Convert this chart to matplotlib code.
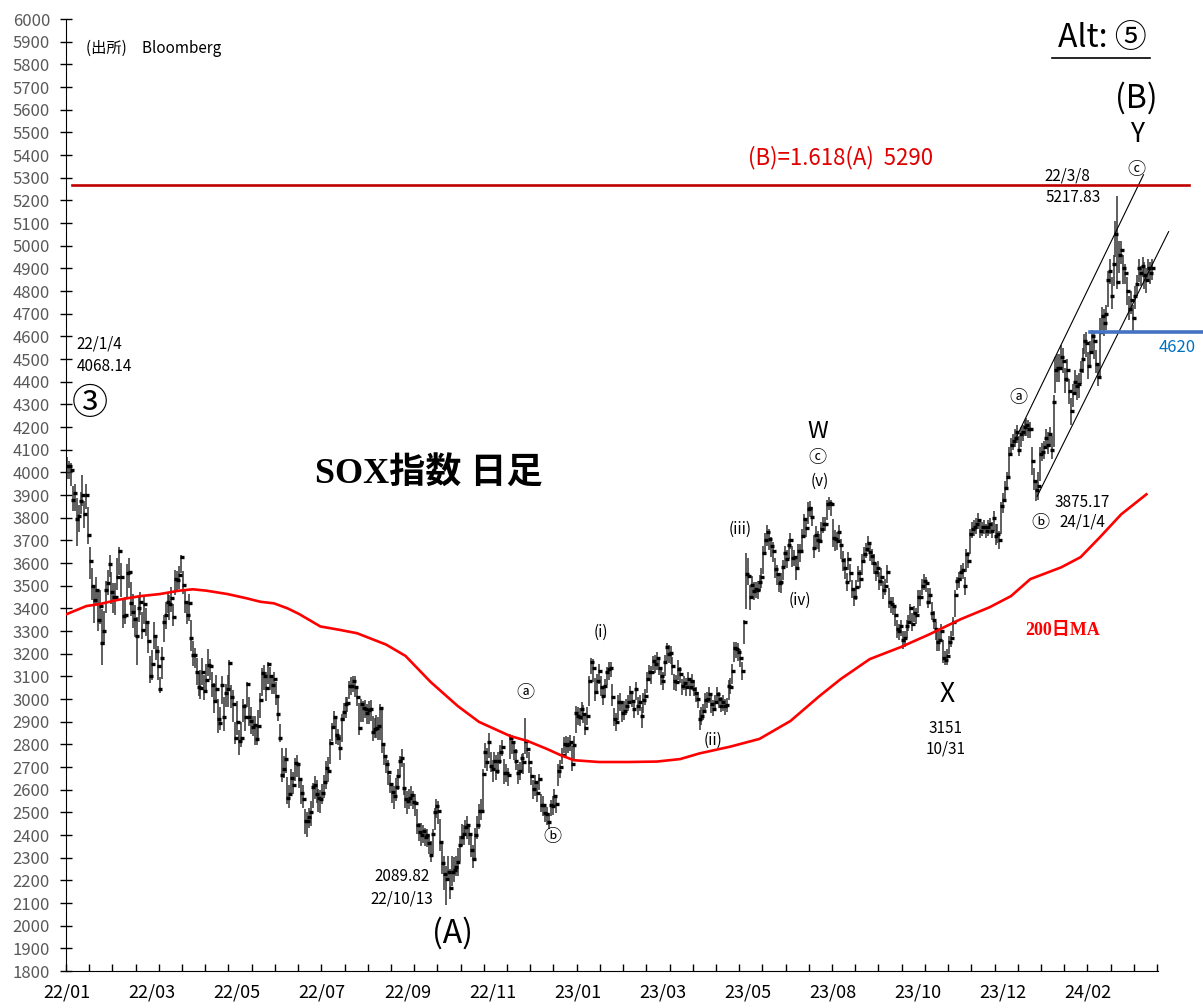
import numpy as np
import matplotlib.pyplot as plt

plt.rcParams['font.family'] = ['Noto Sans CJK JP', 'DejaVu Sans']

# -----------------------------
# DATA (SOX daily)
# -----------------------------
close = [
    4027, 4030, 4010, 3880, 3910, 3795, 3806, 3875, 3900, 3815,
    3900, 3725, 3610, 3497, 3435, 3480, 3350, 3410, 3245, 3300,
    3480, 3510, 3597, 3470, 3450, 3450, 3540, 3655, 3540, 3365,
    3370, 3555, 3560, 3425, 3385, 3355, 3280, 3400, 3430, 3305,
    3420, 3340, 3255, 3100, 3155, 3280, 3210, 3145, 3045, 3180,
    3340, 3370, 3430, 3420, 3445, 3360, 3530, 3525, 3545, 3625,
    3505, 3430, 3370, 3425, 3270, 3195, 3195, 3120, 3055, 3050,
    3120, 3035, 3085, 3150, 3145, 3060, 2990, 3045, 2910, 2895,
    3060, 2920, 3025, 3045, 3160, 3010, 2980, 2830, 2900, 2815,
    2830, 2970, 2920, 3065, 2920, 2905, 2875, 2885, 2825, 2880,
    2995, 3115, 3100, 3050, 3155, 3100, 3060, 3090, 3015, 2935,
    2830, 2665, 2690, 2735, 2565, 2580, 2650, 2620, 2718, 2714,
    2648, 2586, 2560, 2463, 2460, 2479, 2501, 2611, 2621, 2582,
    2563, 2557, 2586, 2633, 2695, 2684, 2805, 2875, 2919, 2841,
    2827, 2783, 2912, 2944, 2978, 2981, 3059, 3056, 3081, 3051,
    3007, 2871, 2978, 2960, 2955, 2940, 2950, 2955, 2853, 2868,
    2870, 2880, 2960, 2802, 2748, 2714, 2680, 2626, 2590, 2574,
    2611, 2659, 2728, 2739, 2607, 2560, 2552, 2563, 2577, 2545,
    2542, 2445, 2413, 2401, 2416, 2391, 2398, 2366, 2313, 2405,
    2501, 2527, 2508, 2369, 2278, 2229, 2204, 2237, 2168, 2237,
    2244, 2259, 2281, 2354, 2390, 2405, 2435, 2442, 2405, 2332,
    2295, 2401, 2442, 2508, 2508, 2670, 2765, 2724, 2809, 2706,
    2692, 2728, 2684, 2728, 2765, 2787, 2674, 2674, 2665, 2827,
    2809, 2772, 2728, 2674, 2684, 2739, 2721, 2816, 2780, 2724,
    2662, 2601, 2633, 2586, 2648, 2533, 2533, 2498, 2494, 2457,
    2533, 2530, 2571, 2538, 2684, 2700, 2754, 2802, 2795, 2802,
    2809, 2714, 2795, 2938, 2924, 2919, 2956, 2934, 2871, 2924,
    3081, 3162, 3135, 3032, 3081, 3125, 3052, 3015, 3059, 3120,
    3132, 3135, 3007, 2912, 2897, 2988, 2985, 2938, 2949, 2968,
    2988, 3029, 2993, 2956, 3044, 2971, 2988, 2924, 2997, 3015,
    3088, 3120, 3117, 3169, 3154, 3179, 3135, 3100, 3081, 3162,
    3228, 3198, 3203, 3147, 3081, 3074, 3132, 3110, 3059, 3071,
    3052, 3088, 3052, 3081, 3044, 3025, 3000, 2912, 2924, 2949,
    2997, 3000, 3022, 2978, 2956, 2986, 3022, 3000, 2971, 2988,
    2971, 2974, 3056, 3052, 3125, 3223, 3220, 3206, 3179, 3125,
    3338, 3551, 3543, 3452, 3502, 3477, 3485, 3480, 3517, 3540,
    3643, 3702, 3737, 3708, 3675, 3653, 3573, 3551, 3511, 3517,
    3584, 3643, 3617, 3678, 3702, 3624, 3628, 3576, 3653, 3653,
    3719, 3796, 3756, 3840, 3844, 3805, 3664, 3722, 3702, 3697,
    3752, 3771, 3771, 3859, 3863, 3859, 3712, 3705, 3697, 3737,
    3678, 3614, 3580, 3517, 3617, 3555, 3485, 3452, 3496, 3558,
    3529, 3609, 3640, 3660, 3690, 3650, 3630, 3600, 3560, 3580,
    3520, 3540, 3480, 3500, 3560, 3430, 3420, 3410, 3370, 3310,
    3300, 3320, 3260, 3270, 3320, 3340, 3400, 3330, 3380, 3370,
    3450, 3450, 3500, 3520, 3510, 3430, 3460, 3380, 3350, 3310,
    3250, 3260, 3300, 3180, 3170, 3190, 3250, 3270, 3340, 3460,
    3520, 3530, 3560, 3570, 3500, 3640, 3610, 3730, 3750, 3760,
    3770, 3790, 3740, 3760, 3760, 3740, 3760, 3770, 3740, 3800,
    3720, 3730, 3700, 3850, 3880, 3930, 3980, 4080, 4120, 4140,
    4150, 4180, 4100, 4170, 4180, 4200, 4210, 4190, 4190, 4050,
    3960, 3920, 3940, 4080, 4090, 4110, 4150, 4120, 4170, 4100,
    4310, 4450, 4460, 4460, 4510, 4490, 4410, 4450, 4360, 4270,
    4350, 4400, 4380, 4390, 4450, 4500, 4580, 4570, 4470, 4530,
    4600, 4580, 4480, 4420, 4620, 4690, 4660, 4700, 4850, 4890,
    4780, 4920, 5050, 4840, 4960, 4980, 4900, 4880, 4800, 4720,
    4760, 4680, 4780, 4830, 4900, 4880, 4910, 4870, 4850, 4900,
    4880, 4900,
]

# distance from close up to the day's high / down to the day's low
up = [
    41, 20, 30, 60, 40, 90, 50, 40, 90, 60,
    50, 120, 60, 80, 70, 60, 130, 70, 150, 90,
    40, 60, 40, 90, 60, 60, 80, 15, 60, 70,
    80, 40, 60, 90, 80, 60, 80, 60, 40, 80,
    40, 60, 80, 90, 60, 60, 70, 90, 50, 50,
    30, 60, 40, 40, 50, 60, 40, 40, 40, 10,
    60, 50, 60, 40, 80, 60, 30, 60, 60, 80,
    60, 70, 70, 70, 30, 60, 80, 60, 90, 70,
    40, 90, 40, 60, 10, 50, 60, 70, 90, 50,
    70, 30, 60, 10, 90, 60, 50, 40, 60, 70,
    30, 20, 50, 70, 10, 40, 40, 30, 60, 80,
    60, 120, 60, 50, 90, 40, 40, 60, 20, 40,
    70, 60, 60, 50, 40, 40, 50, 20, 40, 60,
    40, 40, 40, 30, 30, 60, 20, 20, 30, 70,
    40, 60, 20, 40, 30, 30, 20, 40, 20, 50,
    40, 110, 20, 30, 40, 40, 40, 40, 70, 50,
    60, 40, 20, 150, 50, 40, 50, 40, 30, 40,
    40, 30, 20, 40, 110, 50, 40, 40, 40, 50,
    40, 70, 40, 50, 30, 40, 30, 40, 60, 20,
    20, 30, 40, 100, 90, 80, 60, 70, 80, 70,
    60, 50, 60, 40, 60, 40, 30, 40, 40, 70,
    60, 30, 40, 30, 50, 20, 40, 60, 40, 60,
    40, 40, 70, 40, 30, 30, 60, 40, 30, 20,
    30, 40, 50, 40, 40, 20, 40, 99, 40, 40,
    40, 40, 30, 40, 20, 50, 40, 30, 30, 40,
    20, 40, 30, 40, 30, 30, 30, 30, 40, 30,
    30, 80, 40, 30, 40, 40, 30, 40, 60, 40,
    20, 20, 40, 60, 30, 30, 50, 40, 30, 20,
    30, 30, 60, 50, 40, 30, 40, 50, 40, 30,
    30, 30, 40, 40, 30, 40, 30, 40, 30, 30,
    30, 30, 30, 20, 40, 30, 40, 40, 40, 30,
    20, 40, 30, 40, 30, 30, 40, 30, 30, 30,
    40, 30, 40, 30, 40, 30, 30, 40, 40, 30,
    30, 30, 30, 40, 40, 30, 30, 30, 40, 30,
    30, 30, 30, 40, 30, 30, 30, 40, 40, 40,
    10, 95, 80, 50, 40, 40, 30, 40, 30, 40,
    30, 30, 30, 40, 40, 40, 50, 40, 40, 40,
    30, 30, 40, 30, 30, 50, 30, 40, 30, 30,
    30, 20, 40, 30, 30, 40, 60, 40, 40, 30,
    30, 30, 30, 20, 30, 20, 80, 40, 40, 30,
    30, 40, 40, 40, 30, 40, 40, 30, 30, 30,
    40, 30, 30, 30, 30, 40, 30, 40, 40, 30,
    40, 40, 40, 30, 30, 60, 30, 40, 40, 40,
    30, 30, 40, 30, 30, 30, 20, 50, 30, 30,
    30, 30, 30, 30, 30, 60, 30, 50, 40, 30,
    50, 40, 30, 80, 40, 30, 30, 30, 20, 20,
    20, 30, 30, 30, 40, 20, 40, 20, 30, 30,
    30, 30, 40, 20, 30, 30, 30, 30, 40, 30,
    50, 40, 40, 20, 30, 30, 20, 30, 30, 30,
    40, 30, 60, 30, 30, 30, 30, 40, 30, 60,
    60, 40, 60, 30, 40, 30, 40, 60, 30, 60,
    30, 60, 60, 60, 50, 60, 50, 50, 50, 60,
    40, 50, 50, 50, 40, 50, 30, 50, 60, 50,
    30, 40, 60, 60, 60, 40, 60, 40, 40, 50,
    80, 40, 60, 377, 60, 40, 60, 40, 60, 60,
    40, 60, 40, 40, 40, 30, 40, 60, 50, 40,
    50, 40,
]
dn = [
    57, 60, 70, 50, 80, 118, 70, 60, 50, 60,
    60, 40, 80, 60, 100, 60, 50, 80, 95, 60,
    100, 50, 60, 50, 70, 80, 60, 110, 90, 50,
    40, 110, 70, 60, 70, 80, 130, 60, 60, 40,
    90, 60, 50, 30, 70, 60, 40, 60, 20, 90,
    90, 60, 50, 70, 60, 40, 70, 50, 60, 70,
    40, 50, 40, 80, 60, 50, 60, 60, 40, 50,
    60, 40, 50, 50, 60, 50, 50, 60, 60, 30,
    80, 60, 60, 80, 120, 50, 80, 30, 60, 60,
    40, 70, 60, 100, 40, 60, 40, 90, 30, 50,
    80, 100, 60, 60, 90, 60, 40, 70, 40, 30,
    20, 30, 40, 60, 30, 60, 70, 40, 80, 60,
    40, 50, 40, 60, 70, 50, 60, 90, 60, 40,
    60, 60, 50, 70, 90, 50, 90, 60, 40, 40,
    30, 50, 100, 40, 60, 40, 60, 40, 50, 40,
    40, 30, 80, 60, 40, 50, 60, 50, 40, 40,
    40, 60, 140, 40, 40, 40, 60, 40, 50, 60,
    60, 60, 70, 40, 30, 40, 60, 50, 50, 30,
    60, 40, 40, 50, 50, 40, 50, 50, 30, 90,
    80, 50, 60, 40, 50, 70, 114, 40, 50, 60,
    50, 40, 60, 70, 40, 50, 40, 60, 50, 30,
    40, 110, 60, 80, 40, 160, 70, 40, 70, 30,
    60, 40, 40, 60, 50, 40, 50, 40, 50, 90,
    50, 40, 40, 50, 40, 60, 50, 60, 40, 50,
    40, 40, 60, 40, 50, 30, 50, 40, 50, 30,
    50, 40, 40, 40, 70, 50, 40, 40, 50, 40,
    40, 30, 60, 90, 40, 40, 50, 40, 30, 40,
    110, 50, 60, 40, 60, 60, 40, 40, 50, 60,
    50, 40, 40, 30, 40, 80, 40, 40, 40, 40,
    40, 40, 30, 40, 50, 40, 40, 50, 60, 40,
    60, 40, 50, 40, 40, 50, 30, 40, 40, 60,
    60, 40, 50, 40, 40, 40, 50, 40, 40, 30,
    40, 40, 40, 40, 30, 40, 40, 50, 40, 40,
    50, 40, 40, 40, 30, 40, 40, 40, 30, 40,
    40, 30, 60, 30, 60, 60, 40, 40, 40, 40,
    95, 154, 40, 60, 50, 40, 40, 40, 40, 50,
    90, 60, 60, 50, 50, 50, 40, 50, 40, 50,
    60, 60, 40, 60, 40, 40, 40, 50, 70, 50,
    60, 80, 40, 70, 40, 40, 40, 60, 40, 50,
    60, 40, 30, 70, 30, 50, 40, 50, 40, 40,
    60, 50, 50, 40, 50, 40, 40, 40, 60, 40,
    40, 60, 40, 40, 40, 40, 40, 50, 40, 40,
    40, 40, 40, 40, 50, 30, 40, 40, 50, 40,
    40, 40, 40, 40, 50, 40, 60, 30, 40, 40,
    70, 40, 40, 40, 40, 30, 40, 30, 40, 50,
    40, 50, 50, 20, 19, 40, 50, 40, 60, 100,
    40, 40, 40, 40, 40, 80, 30, 90, 40, 40,
    40, 40, 30, 40, 30, 30, 40, 40, 30, 60,
    40, 40, 40, 120, 60, 50, 60, 100, 50, 40,
    40, 50, 30, 60, 40, 40, 50, 40, 40, 60,
    40, 45, 60, 120, 40, 50, 40, 40, 60, 40,
    200, 100, 60, 60, 50, 50, 60, 50, 60, 60,
    60, 60, 60, 60, 60, 60, 60, 60, 60, 60,
    70, 80, 40, 40, 200, 60, 60, 70, 120, 60,
    60, 100, 100, 30, 80, 60, 70, 50, 60, 50,
    60, 60, 60, 50, 60, 60, 50, 60, 60, 50,
    50, 50,
]

# 200-day moving average (trading-day index, value)
ma_day = [0, 10, 17, 26, 38, 48, 58, 65, 72, 83, 93, 100, 107, 114, 120,
          131, 141, 150, 165, 175, 188, 202, 213, 229, 238, 248, 255, 262,
          275, 290, 305, 317, 327, 343, 358, 374, 389, 400, 415, 431, 446,
          462, 477, 488, 498, 514, 524, 534, 545, 558]
ma_val = [3375, 3410, 3419, 3437, 3454, 3463, 3478, 3484, 3478, 3463, 3444,
          3429, 3422, 3400, 3375, 3320, 3305, 3290, 3240, 3190, 3075, 2969,
          2899, 2837, 2815, 2780, 2753, 2730, 2722, 2722, 2724, 2735, 2760,
          2790, 2824, 2903, 3013, 3088, 3176, 3229, 3286, 3352, 3405, 3454,
          3529, 3581, 3626, 3714, 3815, 3903]

x_labels = ["22/01", "22/03", "22/05", "22/07", "22/09", "22/11", "23/01",
            "23/03", "23/05", "23/08", "23/10", "23/12", "24/02"]

target_B = 5267      # (B)=1.618(A) line
support = 4620       # blue support line

# -----------------------------
# PLOT
# -----------------------------
close = np.array(close)
high = close + np.array(up)
low = close - np.array(dn)
x = np.arange(len(close))

fig = plt.figure(figsize=(12.03, 10.08), dpi=100)
ax = fig.add_axes([66 / 1203, 37 / 1008, (1158 - 66) / 1203, (971 - 19) / 1008])

ax.vlines(x, low, high, color='#333333', lw=1.1, zorder=2)
ax.plot(x + 0.35, close, ls='none', marker='_', ms=3.5, mew=2.4, color='black', zorder=3)
ax.plot(ma_day, ma_val, color='red', lw=1.9, zorder=4)

ax.plot([2.6, 580], [target_B, target_B], color='#C00000', lw=1.9, clip_on=False, zorder=4)
ax.plot([529, 588], [support, support], color='#4472C4', lw=2.6, clip_on=False, zorder=4)

# trend channel
ax.plot([491, 556.5], [4159, 5313], color='black', lw=0.8, clip_on=False)
ax.plot([501.5, 569.5], [3894, 5062], color='black', lw=0.8, clip_on=False)

ax.set_xlim(-0.5, 564)
ax.set_ylim(1800, 6000)
ax.set_yticks(np.arange(1800, 6001, 100))
ax.tick_params(axis='y', direction='inout', length=9, width=1, labelsize=12,
               labelcolor='#595959', pad=7)
ax.set_xticks(np.arange(0, 529, 44))
ax.set_xticklabels(x_labels, fontsize=13)
ax.set_xticks(np.arange(-0.5, 564, 12), minor=True)
ax.tick_params(axis='x', which='major', length=0, pad=9)
ax.tick_params(axis='x', which='minor', direction='in', length=5, width=1)
for s in ['top', 'right']:
    ax.spines[s].set_visible(False)

# -----------------------------
# ANNOTATIONS
# -----------------------------
ax.text(10, 5872, "(出所)　Bloomberg", fontsize=11, va='center', ha='left')
ax.text(5, 4564, "22/1/4", fontsize=11, va='center')
ax.text(5, 4467, "4068.14", fontsize=11, va='center')
ax.text(12, 4300, "③", fontsize=26, ha='center', va='center')
ax.text(187, 3991, "SOX指数 日足", fontsize=26, fontweight='bold', ha='center', va='center',
        family=['Liberation Serif', 'Noto Sans CJK JP'])
ax.text(173, 2216, "2089.82", fontsize=11, ha='center', va='center')
ax.text(173, 2119, "22/10/13", fontsize=11, ha='center', va='center')
ax.text(199.5, 1965, "(A)", fontsize=23, ha='center', va='center')
ax.text(237, 3026, "ⓐ", fontsize=13, ha='center', va='center')
ax.text(251, 2392, "ⓑ", fontsize=13, ha='center', va='center')
ax.text(276, 3295, "(i)", fontsize=11, ha='center', va='center')
ax.text(334, 2819, "(ii)", fontsize=11, ha='center', va='center')
ax.text(348, 3749, "(iii)", fontsize=11, ha='center', va='center')
ax.text(379, 3436, "(iv)", fontsize=11, ha='center', va='center')
ax.text(389, 3960, "(v)", fontsize=11, ha='center', va='center')
ax.text(388, 4062, "ⓒ", fontsize=13, ha='center', va='center')
ax.text(388, 4181, "W", fontsize=17, ha='center', va='center')
ax.text(455, 3022, "X", fontsize=19, ha='center', va='center')
ax.text(454, 2868, "3151", fontsize=11, ha='center', va='center')
ax.text(454, 2780, "10/31", fontsize=11, ha='center', va='center')
ax.text(514.5, 3300, "200日MA", fontsize=13, color='red', fontweight='bold',
        ha='center', va='center', family=['Liberation Serif', 'Noto Sans CJK JP'])
ax.text(492, 4330, "ⓐ", fontsize=13, ha='center', va='center')
ax.text(503, 3775, "ⓑ", fontsize=13, ha='center', va='center')
ax.text(525, 3868, "3875.17", fontsize=11, ha='center', va='center')
ax.text(525, 3780, "24/1/4", fontsize=11, ha='center', va='center')
ax.text(574, 4550, "4620", fontsize=12, color='#0070C0', ha='center', va='center')
ax.text(400, 5388, "(B)=1.618(A)  5290", fontsize=16, color='#E00000', ha='center', va='center')
ax.text(517, 5308, "22/3/8", fontsize=11, ha='center', va='center')
ax.text(520, 5211, "5217.83", fontsize=11, ha='center', va='center')
ax.text(553, 5335, "ⓒ", fontsize=13, ha='center', va='center')
ax.text(553, 5489, "Y", fontsize=19, ha='center', va='center')
ax.text(553, 5652, "(B)", fontsize=23, ha='center', va='center')
ax.text(535, 5915, "Alt: ⑤", fontsize=23, ha='center', va='center')
ax.plot([509, 560], [5828, 5828], color='black', lw=1.2, clip_on=False)

plt.savefig("out.png", dpi=100)
